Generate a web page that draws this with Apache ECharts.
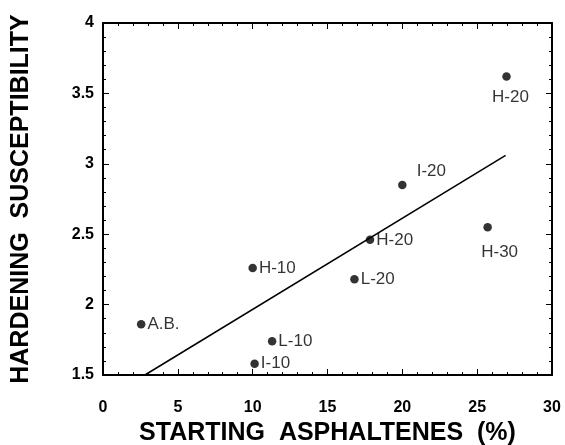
<!DOCTYPE html>
<html>
<head>
<meta charset="utf-8">
<script src="https://cdn.jsdelivr.net/npm/echarts@6/dist/echarts.min.js"></script>
<style>
    html, body { margin: 0; background: #fff; }
    #chart { width: 565px; height: 445px; }
</style>
</head>
<body>
<div id="chart"></div>
<script>
    // samples
    var sampleNames = ["H-20", "H-30", "I-20", "H-20", "L-20", "H-10", "A.B.", "L-10", "I-10"];
    var asphaltenes = [26.96, 25.7, 20.0, 17.84, 16.8, 10.0, 2.55, 11.3, 10.13];
    var susceptibility = [3.62, 2.55, 2.85, 2.46, 2.18, 2.26, 1.86, 1.74, 1.58];

    // regression line end points
    var fitX = [2.8, 26.9];
    var fitY = [1.5, 3.06];

    var xTicks = [0, 5, 10, 15, 20, 25, 30];
    var yTicks = [1.5, 2, 2.5, 3, 3.5, 4];

    var font = "'Liberation Sans', Arial, sans-serif";

    // labels that are not simply to the right of the dot
    var labelOffsets = {0: [4, 21], 1: [12, 25], 2: [29, -14]};

    var points = [];
    for (var i = 0; i < sampleNames.length; i++) {
        var item = {name: sampleNames[i], value: [asphaltenes[i], susceptibility[i]]};
        if (labelOffsets[i]) {
            item.label = {position: "inside", offset: labelOffsets[i]};
        }
        points.push(item);
    }

    var fitLine = [];
    for (var j = 0; j < fitX.length; j++) {
        fitLine.push([fitX[j], fitY[j]]);
    }

    function axisBase(show) {
        return {
            axisLine: {show: true, onZero: false, lineStyle: {color: "#000", width: 2}},
            axisTick: {show: true, inside: true, length: 6, lineStyle: {color: "#000", width: 1}},
            minorTick: {show: true, splitNumber: 5, length: 3, lineStyle: {color: "#000", width: 1}},
            splitLine: {show: false},
            axisLabel: {show: show, color: "#000", fontFamily: font, fontWeight: "bold", fontSize: 16}
        };
    }

    var titleStyle = {color: "#000", fontFamily: font, fontWeight: "bold", fontSize: 25};

    var xBottom = Object.assign(axisBase(true), {
        type: "value", position: "bottom", min: xTicks[0], max: xTicks[xTicks.length - 1], interval: 5,
        name: "STARTING  ASPHALTENES  (%)", nameLocation: "middle", nameGap: 46,
        nameTextStyle: titleStyle
    });
    xBottom.axisLabel.margin = 25;
    var xTop = Object.assign(axisBase(false), {
        type: "value", position: "top", min: xTicks[0], max: xTicks[xTicks.length - 1], interval: 5
    });
    var yLeft = Object.assign(axisBase(true), {
        type: "value", position: "left", min: yTicks[0], max: yTicks[yTicks.length - 1], interval: 0.5,
        name: "HARDENING  SUSCEPTIBILITY", nameLocation: "middle", nameGap: 69,
        nameTextStyle: titleStyle
    });
    yLeft.axisLabel.margin = 9;
    var yRight = Object.assign(axisBase(false), {
        type: "value", position: "right", min: yTicks[0], max: yTicks[yTicks.length - 1], interval: 0.5
    });

    var chart = echarts.init(document.getElementById("chart"));
    chart.setOption({
        animation: false,
        backgroundColor: "#fff",
        grid: {left: 103, right: 13, top: 23, bottom: 70, outerBoundsMode: "none"},
        xAxis: [xBottom, xTop],
        yAxis: [yLeft, yRight],
        series: [{
            type: "line",
            data: fitLine,
            symbol: "none",
            lineStyle: {color: "#000", width: 1.5},
            z: 2
        }, {
            type: "scatter",
            data: points,
            symbol: "circle",
            symbolSize: 8.5,
            itemStyle: {color: "#000"},
            label: {
                show: true,
                position: "right",
                distance: 2,
                formatter: "{b}",
                color: "#000",
                fontFamily: font,
                fontSize: 17
            },
            z: 3
        }]
    });
</script>
</body>
</html>
